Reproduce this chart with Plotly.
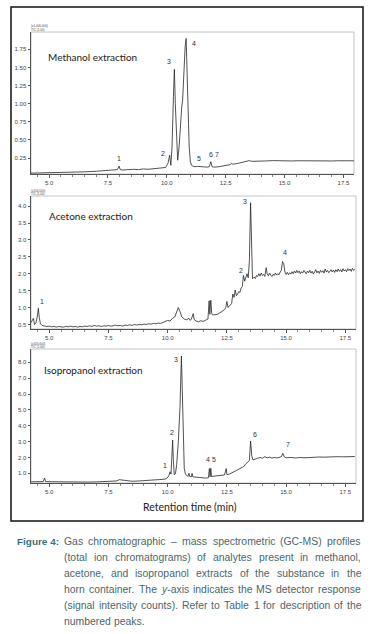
import glob
import plotly.graph_objects as go

W, H = 372, 634

# ---------------- data ----------------
meth_t = [4.23, 4.6, 5.0, 5.5, 6.0, 6.5, 7.0, 7.4, 7.7, 7.9, 7.97, 8.02, 8.1, 8.3, 8.5, 8.6, 8.8,
          9.0, 9.2, 9.4, 9.6, 9.8, 9.95, 10.05, 10.12, 10.17, 10.22, 10.28, 10.32, 10.36, 10.41,
          10.46, 10.52, 10.58, 10.63, 10.67, 10.72, 10.78, 10.82, 10.86, 10.90, 10.95, 11.0, 11.05,
          11.1, 11.2, 11.3, 11.4, 11.5, 11.6, 11.7, 11.8, 11.87, 11.92, 12.0, 12.2, 12.4, 12.6,
          12.7, 12.75, 12.8, 13.0, 13.2, 13.4, 13.5, 13.6, 13.8, 14.0, 14.2, 14.5, 14.8, 15.0,
          15.3, 15.6, 16.0, 16.3, 16.6, 17.0, 17.3, 17.6, 17.95]
meth_v = [0.042, 0.044, 0.046, 0.05, 0.055, 0.06, 0.068, 0.075, 0.082, 0.09, 0.14, 0.09, 0.085,
          0.09, 0.085, 0.095, 0.09, 0.1, 0.095, 0.1, 0.105, 0.11, 0.12, 0.18, 0.29, 0.15, 0.4,
          1.1, 1.475, 1.0, 0.45, 0.22, 0.4, 0.75, 0.94, 1.05, 1.45, 1.80, 1.90, 1.3, 0.75, 0.4,
          0.2, 0.15, 0.14, 0.13, 0.135, 0.13, 0.125, 0.13, 0.125, 0.13, 0.2, 0.13, 0.125, 0.13,
          0.14, 0.15, 0.16, 0.18, 0.165, 0.175, 0.19, 0.2, 0.215, 0.205, 0.21, 0.215, 0.21,
          0.215, 0.21, 0.212, 0.21, 0.213, 0.21, 0.212, 0.215, 0.21, 0.213, 0.21, 0.212]

acet_t = [4.23, 4.28, 4.33, 4.38, 4.44, 4.50, 4.54, 4.58, 4.63, 4.70, 4.8, 4.9, 5.0, 5.1, 5.2,
          5.3, 5.4, 5.5, 5.6, 5.7, 5.8, 5.9, 6.0, 6.1, 6.2, 6.3, 6.4, 6.5, 6.6, 6.7, 6.8, 6.9,
          7.0, 7.1, 7.2, 7.3, 7.4, 7.5, 7.6, 7.7, 7.8, 7.9, 8.0, 8.1, 8.2, 8.3, 8.4, 8.5, 8.6,
          8.7, 8.8, 8.9, 9.0, 9.1, 9.2, 9.3, 9.4, 9.5, 9.6, 9.7, 9.8, 9.9, 10.0, 10.1, 10.2,
          10.3, 10.38, 10.45, 10.52, 10.6, 10.7, 10.8, 10.9, 10.95, 11.0, 11.08, 11.12, 11.2,
          11.3, 11.4, 11.5, 11.6, 11.7, 11.75, 11.78, 11.82, 11.86, 11.9, 12.0, 12.1, 12.2,
          12.3, 12.4, 12.45, 12.5, 12.55, 12.6, 12.7, 12.75, 12.8, 12.85, 12.9, 12.95, 13.0,
          13.05, 13.1, 13.15, 13.2, 13.25, 13.3, 13.35, 13.4, 13.45, 13.5, 13.54, 13.58, 13.65,
          13.7, 13.75, 13.8, 13.85, 13.9, 13.95, 14.0, 14.05, 14.1, 14.16, 14.2, 14.25, 14.3,
          14.35, 14.4, 14.45, 14.5, 14.55, 14.6, 14.65, 14.7, 14.75, 14.8, 14.85, 14.9, 14.95,
          15.0, 15.05, 15.1, 15.15, 15.2, 15.25, 15.3, 15.35, 15.4, 15.45, 15.5, 15.55, 15.6,
          15.65, 15.7, 15.75, 15.8, 15.85, 15.9, 15.95, 16.0, 16.05, 16.1, 16.15, 16.2, 16.25,
          16.3, 16.35, 16.4, 16.45, 16.5, 16.55, 16.6, 16.65, 16.7, 16.75, 16.8, 16.85, 16.9,
          16.95, 17.0, 17.05, 17.1, 17.15, 17.2, 17.25, 17.3, 17.35, 17.4, 17.45, 17.5, 17.55,
          17.6, 17.65, 17.7, 17.75, 17.8, 17.85, 17.9]
acet_v = [0.55, 0.62, 0.68, 0.50, 0.55, 0.75, 0.98, 0.70, 0.52, 0.47, 0.45, 0.44, 0.45, 0.43,
          0.44, 0.42, 0.44, 0.43, 0.42, 0.44, 0.43, 0.45, 0.43, 0.44, 0.42, 0.44, 0.43, 0.45,
          0.44, 0.46, 0.44, 0.47, 0.45, 0.46, 0.44, 0.46, 0.45, 0.47, 0.45, 0.46, 0.48, 0.46,
          0.47, 0.45, 0.48, 0.47, 0.49, 0.47, 0.50, 0.48, 0.50, 0.49, 0.51, 0.50, 0.52, 0.51,
          0.53, 0.52, 0.54, 0.53, 0.56, 0.58, 0.62, 0.60, 0.68, 0.72, 0.85, 1.00, 0.88, 0.72,
          0.66, 0.64, 0.68, 0.62, 0.66, 0.82, 0.64, 0.60, 0.58, 0.61, 0.59, 0.62, 0.66, 1.20,
          0.80, 1.22, 0.82, 0.78, 0.78, 0.80, 0.84, 0.88, 0.94, 1.00, 1.18, 1.00, 1.05, 1.12,
          1.40, 1.30, 1.52, 1.35, 1.40, 1.47, 1.45, 1.58, 1.62, 1.95, 1.78, 1.90, 2.00, 1.88,
          2.40, 4.10, 2.30, 1.85, 1.90, 1.86, 1.95, 1.92, 2.00, 1.93, 2.02, 1.95, 1.98, 1.92,
          2.18, 2.00, 1.94, 2.02, 1.96, 1.92, 1.98, 1.95, 2.02, 1.96, 2.00, 1.97, 2.05, 2.10,
          2.36, 2.30, 2.05, 1.98, 2.04, 1.97, 2.03, 1.99, 2.06, 2.00, 2.08, 2.02, 2.10, 2.03,
          2.08, 2.00, 2.06, 2.02, 2.10, 2.04, 2.00, 2.08, 2.03, 2.10, 2.02, 2.07, 1.99, 2.05,
          2.12, 2.03, 2.08, 2.01, 2.10, 2.04, 2.09, 2.02, 2.14, 2.05, 2.10, 2.03, 2.08, 2.12,
          2.05, 2.11, 2.04, 2.12, 2.06, 2.14, 2.07, 2.12, 2.05, 2.15, 2.08, 2.12, 2.06, 2.15,
          2.09, 2.14, 2.07, 2.16, 2.10, 2.13]

iso_t = [4.23, 4.4, 4.6, 4.75, 4.8, 4.85, 5.0, 5.3, 5.6, 6.0, 6.3, 6.6, 7.0, 7.3, 7.6, 7.85,
         7.95, 8.05, 8.2, 8.5, 8.8, 9.0, 9.2, 9.4, 9.6, 9.8, 9.95, 10.05, 10.1, 10.14, 10.18,
         10.21, 10.24, 10.28, 10.33, 10.38, 10.45, 10.52, 10.58, 10.62, 10.66, 10.7, 10.75,
         10.8, 10.85, 10.9, 10.93, 11.0, 11.03, 11.06, 11.2, 11.4, 11.6, 11.72, 11.76, 11.79,
         11.82, 11.85, 12.0, 12.2, 12.4, 12.47, 12.5, 12.6, 12.7, 12.8, 12.9, 13.0, 13.1, 13.2,
         13.3, 13.4, 13.45, 13.5, 13.55, 13.6, 13.7, 13.8, 13.9, 14.0, 14.1, 14.2, 14.3, 14.4,
         14.5, 14.6, 14.7, 14.8, 14.86, 14.92, 15.0, 15.2, 15.4, 15.6, 15.8, 16.0, 16.2, 16.4,
         16.6, 16.8, 17.0, 17.2, 17.4, 17.6, 17.8, 17.9]
iso_v = [0.46, 0.47, 0.47, 0.48, 0.70, 0.48, 0.47, 0.46, 0.46, 0.45, 0.46, 0.45, 0.46, 0.47,
         0.48, 0.52, 0.60, 0.58, 0.52, 0.50, 0.52, 0.55, 0.57, 0.58, 0.60, 0.62, 0.66, 0.85,
         1.10, 0.95, 2.2, 3.10, 1.8, 0.90, 1.0, 1.55, 3.0, 5.2, 8.40, 6.0, 3.0, 1.3, 0.95,
         0.85, 0.80, 1.0, 0.80, 0.78, 1.0, 0.78, 0.75, 0.72, 0.70, 0.72, 1.30, 0.78, 1.32,
         0.80, 0.82, 0.85, 0.90, 1.30, 0.92, 0.95, 1.05, 1.10, 1.18, 1.25, 1.35, 1.42, 1.60,
         1.70, 1.80, 3.04, 2.10, 1.85, 1.92, 1.95, 2.00, 1.95, 2.05, 1.98, 2.02, 1.96, 2.00,
         1.97, 2.00, 2.05, 2.26, 2.05, 1.98, 2.00, 1.97, 2.00, 1.98, 2.01, 2.00, 2.03, 2.02,
         2.04, 2.03, 2.05, 2.04, 2.06, 2.05, 2.06]

x_ticks = [5.0, 7.5, 10.0, 12.5, 15.0, 17.5]
x_ticktext = ["5.0", "7.5", "10.0", "12.5", "15.0", "17.5"]
meth_yticks = [0.25, 0.50, 0.75, 1.00, 1.25, 1.50, 1.75]
meth_ytext = ["0.25", "0.50", "0.75", "1.00", "1.25", "1.50", "1.75"]
acet_yticks = [0.5, 1.0, 1.5, 2.0, 2.5, 3.0, 3.5, 4.0]
acet_ytext = ["0.5", "1.0", "1.5", "2.0", "2.5", "3.0", "3.5", "4.0"]
iso_yticks = [1.0, 2.0, 3.0, 4.0, 5.0, 6.0, 7.0, 8.0]
iso_ytext = ["1.0", "2.0", "3.0", "4.0", "5.0", "6.0", "7.0", "8.0"]

meth_labels = ["1", "2", "3", "4", "5", "6", "7"]
meth_label_t = [7.97, 9.85, 10.08, 11.16, 11.37, 11.87, 12.15]
meth_label_v = [0.24, 0.315, 1.58, 1.83, 0.25, 0.30, 0.30]
acet_labels = ["1", "2", "3", "4"]
acet_label_t = [4.71, 13.08, 13.25, 14.95]
acet_label_v = [1.17, 2.11, 4.15, 2.62]
iso_labels = ["1", "2", "3", "4", "5", "6", "7"]
iso_label_t = [9.9, 10.17, 10.35, 11.72, 11.95, 13.68, 15.06]
iso_label_v = [1.48, 3.59, 8.15, 1.89, 1.89, 3.46, 2.83]

titles = ["Methanol extraction", "Acetone extraction", "Isopropanol extraction"]
scale_text = [["(x1,000,000)", "TIC (1.00)"], ["(x100,000)", "TIC (1.00)"], ["(x100,000)", "TIC (1.00)"]]

caption_label = "Figure 4:"
caption_lines = [
    "Gas chromatographic – mass spectrometric (GC-MS) profiles",
    "(total ion chromatograms) of analytes present in methanol,",
    "acetone, and isopropanol extracts of the substance in the",
    "horn container. The y-axis indicates the MS detector response",
    "(signal intensity counts). Refer to Table 1 for description of the",
    "numbered peaks.",
]

# ---------------- layout helpers ----------------
def px(x):
    return x / W

def py(y):
    return 1 - y / H

# Arial / Liberation Sans advance widths (per 1000 em) for justifying the caption
_AW = {" ": 278, "a": 556, "b": 556, "c": 500, "d": 556, "e": 556, "f": 278, "g": 556, "h": 556,
       "i": 222, "j": 222, "k": 500, "l": 222, "m": 833, "n": 556, "o": 556, "p": 556, "q": 556,
       "r": 333, "s": 500, "t": 278, "u": 556, "v": 500, "w": 722, "x": 500, "y": 500, "z": 500,
       "A": 667, "B": 667, "C": 722, "D": 722, "E": 667, "F": 611, "G": 778, "H": 722, "I": 278,
       "M": 833, "N": 722, "O": 778, "P": 667, "R": 722, "S": 667, "T": 611, "(": 333, ")": 333,
       "-": 333, "–": 556, ",": 278, ".": 278, ":": 278, "1": 556, "4": 556}

fontfiles = glob.glob("/usr/share/fonts/**/*.ttf", recursive=True)
has_narrow = any("LiberationSansNarrow" in f.replace("-", "") for f in fontfiles)
if has_narrow:
    capfont = "Liberation Sans Narrow"
    cap_factor = 0.82
    max_size = 12.5
else:
    capfont = "Liberation Sans, Arial, sans-serif"
    cap_factor = 1.0
    max_size = 11.0

def text_em(s):
    return sum(_AW.get(c, 556) for c in s) / 1000.0 * cap_factor

left, right = 63.0, 360.0
need = [text_em(l) for l in caption_lines[:-1]]
cap_size = min([max_size] + [(right - left) * 0.965 / e for e in need])
lab_size = min(max_size, 42.0 / (text_em(caption_label) * 1.07))

boxes = [(31, 354, 32, 174), (31, 356, 196, 329), (31, 356, 349, 483)]
yranges = [[0.03, 1.99], [0.365, 4.3], [0.39, 8.84]]
ytick_sets = [(meth_yticks, meth_ytext), (acet_yticks, acet_ytext), (iso_yticks, iso_ytext)]
series = [(meth_t, meth_v), (acet_t, acet_v), (iso_t, iso_v)]
labels = [(meth_labels, meth_label_t, meth_label_v), (acet_labels, acet_label_t, acet_label_v),
          (iso_labels, iso_label_t, iso_label_v)]
title_pos = [(46, 57.5), (47, 215.5), (42, 370)]

fig = go.Figure()
layout = dict(width=W, height=H, margin=dict(l=0, r=0, t=0, b=0), template="none",
              paper_bgcolor="white", plot_bgcolor="white", showlegend=False)
annotations = []
shapes = []
tickfont = dict(family="Liberation Sans, Arial, sans-serif", size=6, color="#444444")

for i in range(3):
    n = "" if i == 0 else str(i + 1)
    xa, ya = "x" + n, "y" + n
    t, v = series[i]
    fig.add_trace(go.Scatter(x=t, y=v, mode="lines", xaxis=xa, yaxis=ya,
                             line=dict(color="#262626", width=0.8), hoverinfo="skip"))
    l, r, tp, bt = boxes[i]
    layout["xaxis" + n] = dict(domain=[px(l), px(r)], range=[4.23, 17.95], anchor=ya,
                               tickmode="array", tickvals=x_ticks, ticktext=x_ticktext,
                               ticks="outside", ticklen=3, tickwidth=0.7, tickcolor="#555555",
                               showline=True, linecolor="#555555", linewidth=1,
                               showgrid=False, zeroline=False, tickfont=tickfont,
                               minor=dict(ticks="outside", ticklen=1.5, tickcolor="#888888",
                                          tickmode="linear", tick0=0, dtick=0.5, showgrid=False))
    tv, tt = ytick_sets[i]
    layout["yaxis" + n] = dict(domain=[py(bt), py(tp)], range=yranges[i], anchor=xa,
                               tickmode="array", tickvals=tv, ticktext=tt,
                               ticks="outside", ticklen=2.5, tickwidth=0.7, tickcolor="#555555",
                               showline=True, linecolor="#555555", linewidth=1,
                               showgrid=False, zeroline=False, tickfont=tickfont)
    shapes.append(dict(type="rect", xref="paper", yref="paper", x0=px(l), x1=px(r),
                       y0=py(bt), y1=py(tp), line=dict(color="#b5b5b5", width=0.8),
                       layer="below"))
    annotations.append(dict(xref="paper", yref="paper", x=px(title_pos[i][0]),
                            y=py(title_pos[i][1]), text=titles[i], showarrow=False,
                            xanchor="left", yanchor="middle",
                            font=dict(family="Lato, sans-serif", size=10, color="#222222")))
    for k, s in enumerate(scale_text[i]):
        annotations.append(dict(xref="paper", yref="paper", x=px(l - 1), y=py(tp - 5.5 + 3 * k),
                                text=s, showarrow=False, xanchor="left", yanchor="middle",
                                borderpad=0,
                                font=dict(family="Liberation Sans, sans-serif", size=3,
                                          color="#444444")))
    labs, lt, lv = labels[i]
    for s, xx, yy in zip(labs, lt, lv):
        annotations.append(dict(xref=xa, yref=ya, x=xx, y=yy, text=s, showarrow=False,
                                xanchor="center", yanchor="middle",
                                font=dict(family="Liberation Sans, sans-serif", size=7,
                                          color="#333333")))

annotations.append(dict(xref="paper", yref="paper", x=px(190), y=py(507),
                        text="Retention time (min)", showarrow=False,
                        xanchor="center", yanchor="middle",
                        font=dict(family="Lato, sans-serif", size=10.5, color="#222222")))

shapes.append(dict(type="rect", xref="paper", yref="paper", x0=px(11), x1=px(363),
                   y0=py(521), y1=py(7), line=dict(color="#111111", width=1.5)))

# caption, justified word by word
cap_color = "#4a666d"
annotations.append(dict(xref="paper", yref="paper", x=px(16), y=py(541),
                        text="<b>" + caption_label + "</b>", showarrow=False, xanchor="left",
                        yanchor="middle", borderpad=0,
                        font=dict(family=capfont, size=lab_size, color="#3a6f7c")))
for k, line in enumerate(caption_lines):
    words = line.split(" ")
    widths = [text_em(w) * cap_size for w in words]
    space = text_em(" ") * cap_size
    if k == len(caption_lines) - 1:
        gap = space
    else:
        gap = max((right - left - sum(widths)) / (len(words) - 1), space)
    xcur = left
    for w, ww in zip(words, widths):
        txt = "<i>y</i>-axis" if w == "y-axis" else w
        annotations.append(dict(xref="paper", yref="paper", x=px(xcur), y=py(541 + 16 * k),
                                text=txt, showarrow=False, xanchor="left", yanchor="middle",
                                borderpad=0,
                                font=dict(family=capfont, size=cap_size, color=cap_color)))
        xcur += ww + gap

layout["annotations"] = annotations
layout["shapes"] = shapes
fig.update_layout(**layout)
fig.write_html("out.html", config={"displayModeBar": False},
               post_script="document.body.style.margin='0px';")
